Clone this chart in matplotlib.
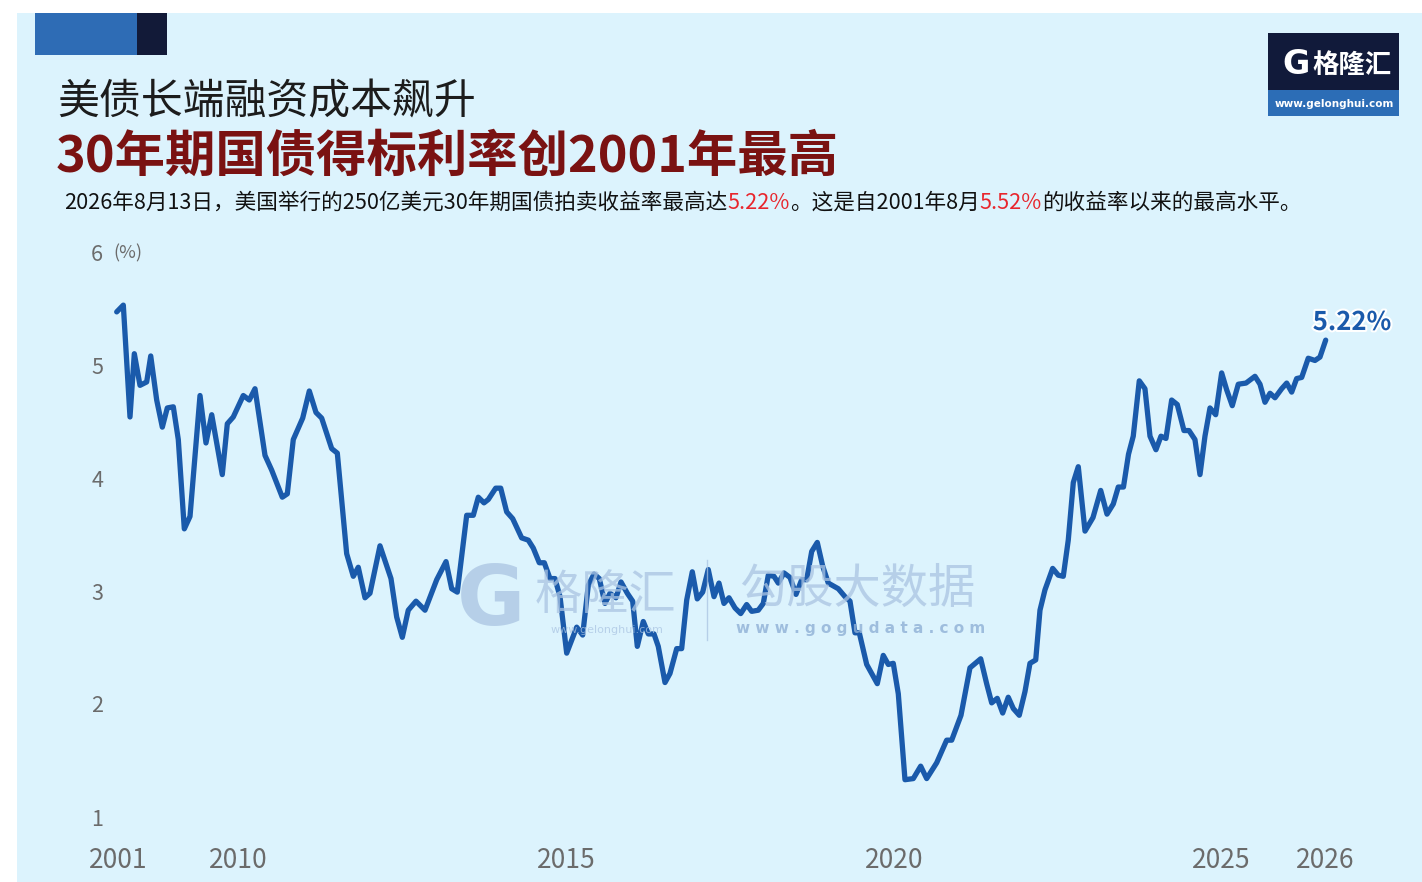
import matplotlib
matplotlib.use("Agg")
import matplotlib.pyplot as plt
from matplotlib.patches import Rectangle
import matplotlib.patheffects as pe

plt.rcParams['font.family'] = ['Noto Sans CJK SC', 'DejaVu Sans']

# ---------------- data ----------------
# x = auction sequence position (roughly one unit per monthly auction), y = high yield (%)
auction_pos = [0.0, 1.21, 2.43, 3.22, 4.26, 5.48, 6.22, 7.31, 8.34, 9.25, 10.35, 11.26, 12.36,
               13.40, 15.23, 16.32, 17.37, 19.30, 20.22, 21.31, 23.14, 24.24, 25.28, 27.11, 28.33,
               30.27, 31.19, 32.28, 34.00, 35.21, 36.43, 37.47, 39.30, 40.33, 42.04, 43.25, 44.16,
               45.39, 46.30, 48.13, 50.14, 51.18, 52.21, 53.30, 54.71, 56.36, 58.50, 60.20, 61.24,
               62.26, 63.98, 65.19, 66.10, 67.14, 67.93, 69.28, 70.20, 71.29, 72.39, 74.03, 75.24,
               76.15, 77.25, 78.17, 79.21, 80.12, 81.04, 82.26, 84.09, 85.18, 86.21, 87.25, 88.22,
               89.26, 90.18, 91.27, 92.19, 93.34, 94.32, 95.17, 96.26, 97.18, 98.22, 99.00, 100.23,
               101.14, 102.37, 103.28, 104.20, 105.22, 106.13, 107.12, 108.14, 109.19, 110.10,
               111.01, 111.93, 113.03, 114.07, 115.16, 116.08, 117.28, 118.20, 119.11, 120.15,
               120.94, 121.98, 123.08, 124.18, 125.22, 126.13, 127.05, 128.07, 129.06, 130.08,
               131.91, 133.13, 134.05, 134.96, 135.75, 137.10, 139.04, 140.13, 141.05, 141.96,
               142.88, 144.10, 145.62, 146.97, 148.07, 149.90, 151.72, 152.64, 154.34, 155.98,
               157.94, 159.03, 159.95, 160.97, 161.96, 162.98, 163.90, 164.99, 166.04, 166.95,
               168.00, 168.78, 169.69, 171.10, 172.12, 173.04, 173.95, 174.87, 175.78, 177.01,
               178.47, 179.88, 181.03, 182.18, 183.09, 184.04, 184.96, 185.83, 186.93, 187.97,
               188.89, 189.98, 190.90, 191.81, 192.85, 193.88, 195.10, 196.02, 197.11, 198.03,
               198.94, 199.86, 200.90, 201.99, 202.91, 203.93, 205.03, 206.44, 208.08, 209.00,
               209.91, 210.83, 211.74, 212.96, 213.88, 214.79, 215.70, 216.62, 217.82, 219.05,
               219.96, 221.01]
yield_pct = [5.47, 5.53, 4.54, 5.10, 4.82, 4.85, 5.08, 4.69, 4.45, 4.62, 4.63, 4.34, 3.55,
             3.66, 4.73, 4.31, 4.56, 4.03, 4.48, 4.54, 4.73, 4.69, 4.79, 4.20, 4.07,
             3.83, 3.86, 4.34, 4.53, 4.77, 4.58, 4.53, 4.26, 4.22, 3.33, 3.13, 3.21,
             2.94, 2.98, 3.40, 3.11, 2.77, 2.59, 2.83, 2.91, 2.83, 3.10, 3.26, 3.02,
             2.99, 3.67, 3.67, 3.83, 3.78, 3.81, 3.91, 3.91, 3.70, 3.64, 3.47, 3.45,
             3.38, 3.25, 3.25, 3.11, 3.11, 2.95, 2.45, 2.68, 2.61, 3.05, 3.15, 3.11,
             2.89, 2.98, 2.94, 3.08, 2.98, 2.91, 2.51, 2.73, 2.62, 2.62, 2.51, 2.19,
             2.27, 2.49, 2.49, 2.92, 3.17, 2.93, 2.99, 3.19, 2.95, 3.07,
             2.89, 2.94, 2.85, 2.80, 2.88, 2.82, 2.83, 2.89, 3.14, 3.13,
             3.07, 3.16, 3.12, 2.97, 3.10, 3.10, 3.35, 3.43, 3.22, 3.07,
             3.02, 2.95, 2.91, 2.63, 2.63, 2.35, 2.18, 2.43, 2.35, 2.36,
             2.09, 1.33, 1.34, 1.45, 1.34, 1.48, 1.68, 1.68, 1.90, 2.32,
             2.40, 2.18, 2.01, 2.05, 1.92, 2.06, 1.96, 1.90, 2.11, 2.36,
             2.39, 2.83, 3.01, 3.20, 3.14, 3.13, 3.45, 3.96, 4.10, 3.53,
             3.65, 3.89, 3.68, 3.77, 3.92, 3.92, 4.21, 4.37, 4.86, 4.79,
             4.37, 4.25, 4.37, 4.35, 4.69, 4.65, 4.42, 4.42, 4.34, 4.03,
             4.37, 4.62, 4.56, 4.93, 4.78, 4.64, 4.83, 4.84, 4.90, 4.83,
             4.67, 4.75, 4.71, 4.79, 4.84, 4.76, 4.88, 4.89, 5.06, 5.04,
             5.07, 5.22]

tick_pos = [0.26, 22.17, 82.13, 142.09, 201.87, 220.88]
tick_labels = ['2001', '2010', '2015', '2020', '2025', '2026']
y_ticks = [1, 2, 3, 4, 5, 6]

title1 = '美债长端融资成本飙升'
title2 = '30年期国债得标利率创2001年最高'
subtitle_parts = [('2026年8月13日，美国举行的250亿美元30年期国债拍卖收益率最高达', '#111111'),
                  ('5.22%', '#e8262d'),
                  ('。这是自2001年8月', '#111111'),
                  ('5.52%', '#e8262d'),
                  ('的收益率以来的最高水平。', '#111111')]
end_label = '5.22%'

# ---------------- figure ----------------
W, H = 1422, 882
fig = plt.figure(figsize=(W / 100, H / 100), dpi=100)
fig.patch.set_facecolor('white')

def fx(px):
    return px / W

def fy(py):
    return 1 - py / H

BG = '#dcf3fd'
fig.patches.append(Rectangle((fx(17), 0), 1 - fx(17), fy(13), transform=fig.transFigure,
                             facecolor=BG, edgecolor='none', zorder=-10))
# top-left decorative blocks
fig.patches.append(Rectangle((fx(35), fy(55)), fx(137) - fx(35), fy(13) - fy(55),
                             transform=fig.transFigure, facecolor='#2e6cb5', edgecolor='none', zorder=-5))
fig.patches.append(Rectangle((fx(137), fy(55)), fx(167) - fx(137), fy(13) - fy(55),
                             transform=fig.transFigure, facecolor='#121a38', edgecolor='none', zorder=-5))
# logo top-right
fig.patches.append(Rectangle((fx(1268), fy(90)), fx(1399) - fx(1268), fy(33) - fy(90),
                             transform=fig.transFigure, facecolor='#111a3a', edgecolor='none', zorder=-5))
fig.patches.append(Rectangle((fx(1268), fy(116)), fx(1399) - fx(1268), fy(90) - fy(116),
                             transform=fig.transFigure, facecolor='#2c6db6', edgecolor='none', zorder=-5))
fig.text(fx(1296), fy(64), 'G', color='white', fontsize=24, fontweight='heavy',
         ha='center', va='center', family=['DejaVu Sans'])
fig.text(fx(1352), fy(65), '格隆汇', color='white', fontsize=19, fontweight='bold',
         ha='center', va='center')
fig.text(fx(1334), fy(104), 'www.gelonghui.com', color='white', fontsize=7.5, fontweight='bold',
         ha='center', va='center', family=['DejaVu Sans'])

# titles
fig.text(fx(57), fy(103), title1, color='#1c1c1c', fontsize=30.2, ha='left', va='center')
fig.text(fx(56), fy(157), title2, color='#7a1212', fontsize=36.3, fontweight='bold',
         ha='left', va='center')

renderer = fig.canvas.get_renderer()
x = fx(64)
for s, c in subtitle_parts:
    t = fig.text(x, fy(203), s, color=c, fontsize=15.55, ha='left', va='center')
    bb = t.get_window_extent(renderer)
    x += bb.width / W

# ---------------- axes ----------------
ax = fig.add_axes([fx(110), fy(830), fx(1340) - fx(110), fy(240) - fy(830)])
ax.set_facecolor('none')
for sp in ax.spines.values():
    sp.set_visible(False)

slope = 5.47
ax.set_xlim(0 - (116.7 - 110) / slope, 221.01 + (1340 - 1325.7) / slope)
ax.set_ylim(1 - 13 / 113, 6 + 12 / 113)

ax.plot(auction_pos, yield_pct, color='#1a5aab', lw=3.8, solid_joinstyle='round',
        solid_capstyle='round', zorder=5)

ax.set_yticks(y_ticks)
ax.set_yticklabels([str(v) for v in y_ticks], fontsize=15.5, color='#6b6b6b')
ax.set_xticks(tick_pos)
ax.set_xticklabels(tick_labels, fontsize=19, color='#6b6b6b')
ax.tick_params(axis='both', length=0)
ax.tick_params(axis='y', pad=5)
ax.tick_params(axis='x', pad=12)

fig.text(fx(113), fy(253), '(%)', color='#6b6b6b', fontsize=13, ha='left', va='center')

ax.annotate(end_label, xy=(auction_pos[-1], yield_pct[-1]), xytext=(19, 3),
            textcoords='offset points', ha='center', va='bottom', fontsize=18.5,
            fontweight='bold', color='#1a5aab', zorder=6,
            path_effects=[pe.withStroke(linewidth=3, foreground='white')])

# watermark
wm = '#aac4e2'
fig.text(fx(491), fy(602), 'G', color=wm, fontsize=60, fontweight='heavy', ha='center',
         va='center', family=['DejaVu Sans'], alpha=0.75, zorder=1)
fig.text(fx(606), fy(596), '格隆汇', color=wm, fontsize=34, ha='center', va='center',
         alpha=0.75, zorder=1)
fig.text(fx(607), fy(630), 'www.gelonghui.com', color=wm, fontsize=8, ha='center', va='center',
         family=['DejaVu Sans'], alpha=0.75, zorder=1)
fig.lines.append(plt.Line2D([fx(707), fx(707)], [fy(560), fy(640)], transform=fig.transFigure,
                            color=wm, lw=1, alpha=0.75, zorder=1))
fig.text(fx(857), fy(590), '勾股大数据', color=wm, fontsize=34, ha='center', va='center',
         alpha=0.75, zorder=1)
fig.text(fx(861), fy(628), 'w w w . g o g u d a t a . c o m', color='#8fb0d6', fontsize=11,
         fontweight='bold', ha='center', va='center', family=['DejaVu Sans'], alpha=0.8, zorder=1)

fig.savefig('out.png', dpi=100, facecolor=fig.get_facecolor())
